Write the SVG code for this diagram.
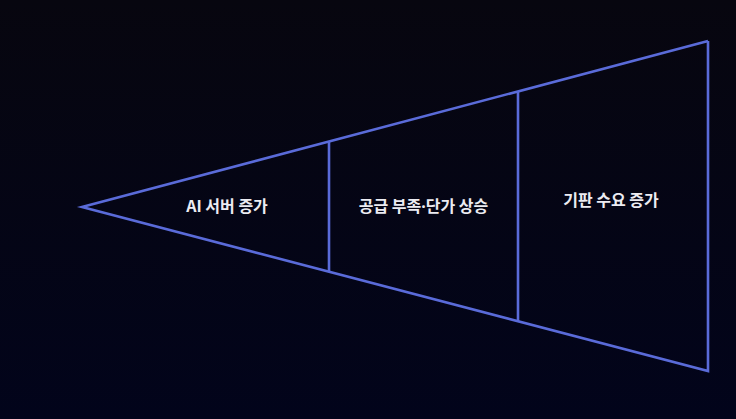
<svg xmlns="http://www.w3.org/2000/svg" width="736" height="419" viewBox="0 0 736 419">
<defs>
<linearGradient id="bg" x1="0" y1="0" x2="0" y2="1">
<stop offset="0" stop-color="#07060f"/>
<stop offset="1" stop-color="#02041b"/>
</linearGradient>
<style>
.ln{fill:none;stroke:#5a6bd9;stroke-width:2.6;stroke-linejoin:miter}
.lb{font-family:"Noto Sans CJK KR","Noto Sans",sans-serif;font-weight:700;font-size:16px;fill:#ececf2;text-anchor:middle}
.dot{font-family:"Noto Sans",sans-serif}
</style>
</defs>
<rect width="736" height="419" fill="url(#bg)"/>
<g id="connectors">
<polyline class="ln" points="708,41 82,207 708,371 708,41"/>
<line class="ln" x1="329" y1="141.5" x2="329" y2="271.7"/>
<line class="ln" x1="518" y1="91.4" x2="518" y2="321.2"/>
</g>
<g id="n1"><text class="lb" x="227" y="212">AI 서버 증가</text></g>
<g id="n2"><text class="lb" x="423.5" y="212">공급 부족<tspan class="dot">·</tspan>단가 상승</text></g>
<g id="n3"><text class="lb" x="611" y="206">기판 수요 증가</text></g>
</svg>
